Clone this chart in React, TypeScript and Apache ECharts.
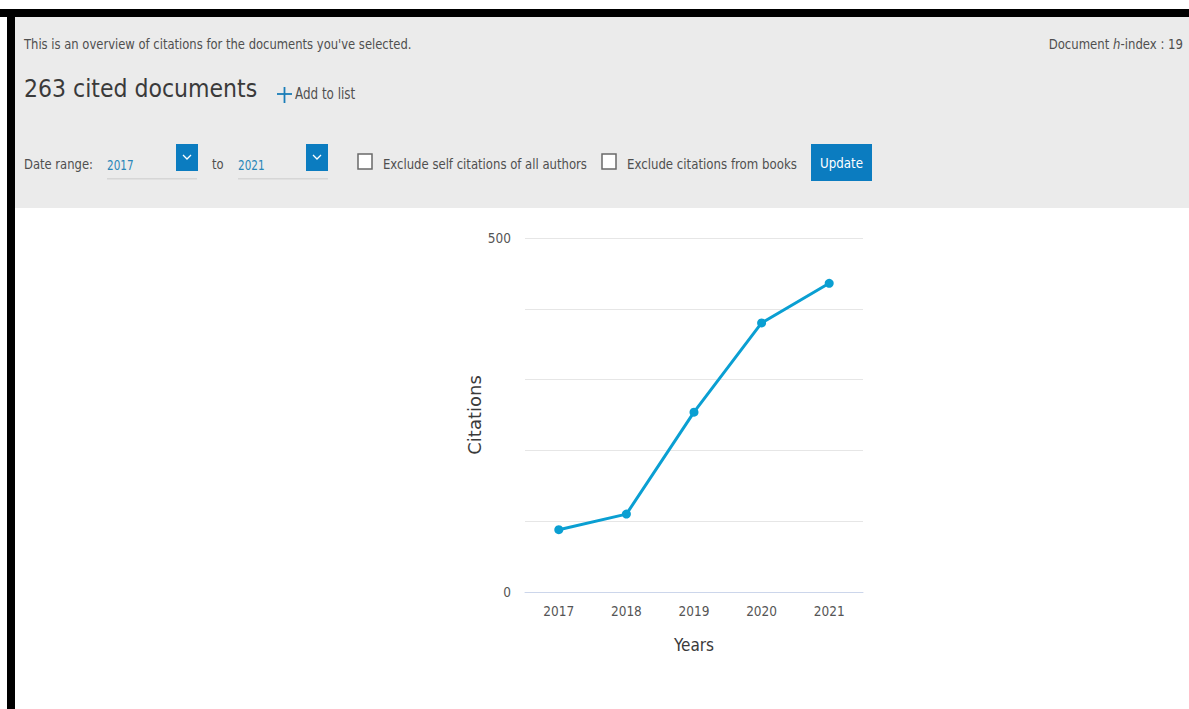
import React, { useEffect, useRef } from "react";
import * as echarts from "echarts";

const years = ["2017", "2018", "2019", "2020", "2021"];
const citations = [88, 110, 254, 380, 436];
const yMax = 500;
const yInterval = 100;

const FONT = "'DejaVu Sans Condensed', 'DejaVu Sans', sans-serif";
const TXT = "#4f4f4f";
const BLUE_BOX = "#0b7cc0";

export default function App() {
  const ref = useRef<HTMLDivElement>(null);
  useEffect(() => {
    const chart = echarts.init(ref.current!, undefined, { renderer: "svg" });
    const chevron = (x: number) => ({
      type: "polyline",
      shape: { points: [[x - 4, 155], [x, 159], [x + 4, 155]] },
      style: { stroke: "#ffffff", lineWidth: 1.3, fill: "none" },
    });
    const checkbox = (x: number) => ({
      type: "rect",
      shape: { x, y: 154, width: 14, height: 15 },
      style: { fill: "#ffffff", stroke: "#6a6a6a", lineWidth: 1.5 },
    });
    const txt = (
      x: number,
      y: number,
      text: string,
      size: number,
      sx: number,
      fill: string = TXT,
      align: string = "left"
    ) => ({
      type: "text",
      x,
      y,
      scaleX: sx,
      style: { text, font: `${size}px ${FONT}`, fill, align, verticalAlign: "middle" },
    });
    chart.setOption({
      animation: false,
      backgroundColor: "#ffffff",
      graphic: [
        { type: "rect", shape: { x: 0, y: 9, width: 1189, height: 8 }, style: { fill: "#000" } },
        { type: "rect", shape: { x: 7, y: 9, width: 8, height: 700 }, style: { fill: "#000" } },
        { type: "rect", shape: { x: 15, y: 17, width: 1174, height: 191 }, style: { fill: "#ebebeb" } },
        txt(24, 44, "This is an overview of citations for the documents you've selected.", 14, 0.92),
        {
          type: "text",
          x: 1183,
          y: 44,
          scaleX: 0.93,
          style: {
            text: "Document {i|h}-index : 19",
            font: `14px ${FONT}`,
            fill: TXT,
            align: "right",
            verticalAlign: "middle",
            rich: { i: { fontStyle: "italic", fontFamily: FONT, fontSize: 14, fill: TXT } },
          },
        },
        txt(24, 88, "263 cited documents", 25, 0.98, "#3a3a3a"),
        { type: "line", shape: { x1: 277, y1: 94, x2: 292, y2: 94 }, style: { stroke: "#1a7db8", lineWidth: 1.8 } },
        { type: "line", shape: { x1: 284.5, y1: 87, x2: 284.5, y2: 103 }, style: { stroke: "#1a7db8", lineWidth: 1.8 } },
        txt(295, 93, "Add to list", 16, 0.83),
        txt(24, 164, "Date range:", 14, 0.92),
        txt(107, 165, "2017", 14.5, 0.8, "#2a86b8"),
        { type: "rect", shape: { x: 107, y: 178, width: 90, height: 1.5 }, style: { fill: "#d6d6d6" } },
        { type: "rect", shape: { x: 176, y: 144, width: 22, height: 27 }, style: { fill: BLUE_BOX } },
        chevron(187),
        txt(212, 164, "to", 14, 0.92),
        txt(238, 165, "2021", 14.5, 0.8, "#2a86b8"),
        { type: "rect", shape: { x: 238, y: 178, width: 90, height: 1.5 }, style: { fill: "#d6d6d6" } },
        { type: "rect", shape: { x: 306, y: 144, width: 22, height: 27 }, style: { fill: BLUE_BOX } },
        chevron(317),
        checkbox(358),
        txt(383, 164, "Exclude self citations of all authors", 14, 0.927),
        checkbox(602),
        txt(627, 164, "Exclude citations from books", 14, 0.936),
        { type: "rect", shape: { x: 811, y: 144, width: 61, height: 37 }, style: { fill: BLUE_BOX } },
        txt(841.5, 163, "Update", 14.5, 0.91, "#ffffff", "center"),
      ],
      grid: { left: 525, right: 326, top: 238, bottom: 117, containLabel: false },
      xAxis: {
        type: "category",
        data: years,
        boundaryGap: true,
        name: "Years",
        nameLocation: "middle",
        nameGap: 44,
        nameTextStyle: { fontFamily: FONT, fontSize: 17, color: "#3a3a3a" },
        axisLine: { show: true, lineStyle: { color: "#ccd6eb", width: 1 } },
        axisTick: { show: false },
        axisLabel: { fontFamily: FONT, fontSize: 13.5, color: "#555", margin: 12 },
      },
      yAxis: {
        type: "value",
        min: 0,
        max: yMax,
        interval: yInterval,
        name: "Citations",
        nameLocation: "middle",
        nameGap: 42,
        nameTextStyle: { fontFamily: "'DejaVu Sans', sans-serif", fontSize: 18, color: "#3a3a3a" },
        axisLine: { show: false },
        axisTick: { show: false },
        axisLabel: {
          fontFamily: FONT,
          fontSize: 13.5,
          color: "#555",
          margin: 14,
          formatter: (v: number) => (v === 0 || v === yMax ? String(v) : ""),
        },
        splitLine: { lineStyle: { color: "#e6e6e6", width: 1 } },
      },
      series: [
        {
          type: "line",
          data: citations,
          symbol: "circle",
          symbolSize: 9,
          lineStyle: { color: "#0a9fd2", width: 3 },
          itemStyle: { color: "#0a9fd2" },
        },
      ],
    });
    return () => chart.dispose();
  }, []);
  return (
    <div
      ref={ref}
      style={{ position: "fixed", left: 0, top: 0, width: 1189, height: 709, background: "#fff" }}
    />
  );
}
